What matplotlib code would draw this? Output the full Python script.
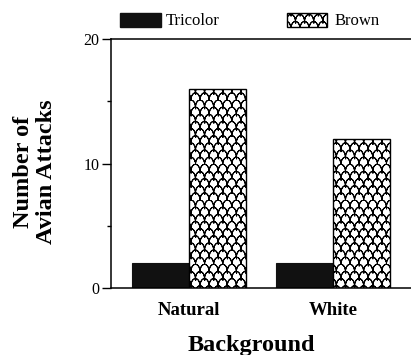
import warnings
import numpy as np
import matplotlib
matplotlib.use("Agg")
import matplotlib.pyplot as plt
import matplotlib.hatch as mhatch
from matplotlib.patches import Rectangle

warnings.filterwarnings("ignore")

# ---- data ----
categories = ["Natural", "White"]
series_names = ["Tricolor", "Brown"]
tricolor = [2, 2]
brown = [16, 12]
yticks = [0, 10, 20]
yminor = [5, 15]


# ---- custom fish-scale hatch ('s') ----
class ScaleHatch(mhatch.HatchPatternBase):
    def __init__(self, hatch, density):
        n = hatch.count('s')
        self.ncols = 11
        self.nrows = 14
        self.nseg = 10
        self.per_arc = 2 * self.nseg + 1
        if n:
            self.num_vertices = self.nrows * (self.ncols + 1) * self.per_arc
        else:
            self.num_vertices = 0

    def set_vertices_and_codes(self, vertices, codes):
        s = 1.0 / self.ncols
        d = 1.0 / self.nrows
        t = np.linspace(np.pi, 0, self.nseg + 1)
        t = np.concatenate([t, t[-2::-1]])  # out and back -> zero area
        k = 0
        m = self.per_arc
        for j in range(self.nrows):
            y0 = j * d
            off = (j % 2) * s / 2
            for i in range(-1, self.ncols):
                xc = i * s + off + s / 2
                vertices[k:k + m, 0] = xc + (s / 2) * np.cos(t)
                vertices[k:k + m, 1] = y0 + d * np.sin(t)
                codes[k] = mhatch.Path.MOVETO
                codes[k + 1:k + m] = mhatch.Path.LINETO
                k += m


mhatch._hatch_types.append(ScaleHatch)
mhatch._validate_hatch_pattern = lambda h: None

plt.rcParams['font.family'] = ['Liberation Serif', 'DejaVu Serif']
plt.rcParams['hatch.linewidth'] = 0.75

W, H = 411, 355
fig = plt.figure(figsize=(W / 100, H / 100), dpi=100)
ax = fig.add_axes([111 / W, 67 / H, 300 / W, 249 / H])

x = np.arange(len(categories))
w = 0.396
ax.bar(x - w / 2, tricolor, width=w, color='#111111', edgecolor='#111111',
       linewidth=0.8, zorder=2)
ax.bar(x + w / 2, brown, width=w, color='white', edgecolor='black',
       hatch='s', linewidth=1.0, zorder=2)

ax.set_xlim(-0.542, 1.542)
ax.set_ylim(0, 20)
ax.set_yticks(yticks)
ax.set_yticks(yminor, minor=True)
ax.set_yticklabels([str(v) for v in yticks], fontsize=11.5)
ax.set_xticks(x)
ax.set_xticklabels(categories, fontsize=13.5, fontweight='bold')
ax.tick_params(axis='x', length=0, pad=10)
ax.tick_params(axis='y', which='major', direction='out', length=6.5,
               width=1.0, pad=2)
ax.tick_params(axis='y', which='minor', direction='out', length=3, width=1.0)

for side in ['left', 'top', 'bottom']:
    ax.spines[side].set_linewidth(1.1)
ax.spines['right'].set_visible(False)

fig.text(251 / W, 1 - 351 / H, "Background", fontsize=17.5,
         fontweight='bold', ha='center', va='baseline')
fig.text(35 / W, 1 - 172 / H, "Number of\nAvian Attacks", fontsize=17.5,
         fontweight='bold', ha='center', va='center', rotation=90,
         multialignment='center', linespacing=1.18)

# ---- legend ----
lax = fig.add_axes([0, 0, 1, 1])
lax.set_xlim(0, W)
lax.set_ylim(H, 0)
lax.axis('off')
lax.add_patch(Rectangle((120, 13), 41, 14, facecolor='#111111',
                        edgecolor='#111111'))
lax.text(166, 21, series_names[0], fontsize=12, ha='left', va='center')
lax.add_patch(Rectangle((287, 13), 40, 14, facecolor='white',
                        edgecolor='black', hatch='s', linewidth=1.0))
lax.text(335, 21, series_names[1], fontsize=12, ha='left', va='center')

fig.savefig("out.png", dpi=100)
